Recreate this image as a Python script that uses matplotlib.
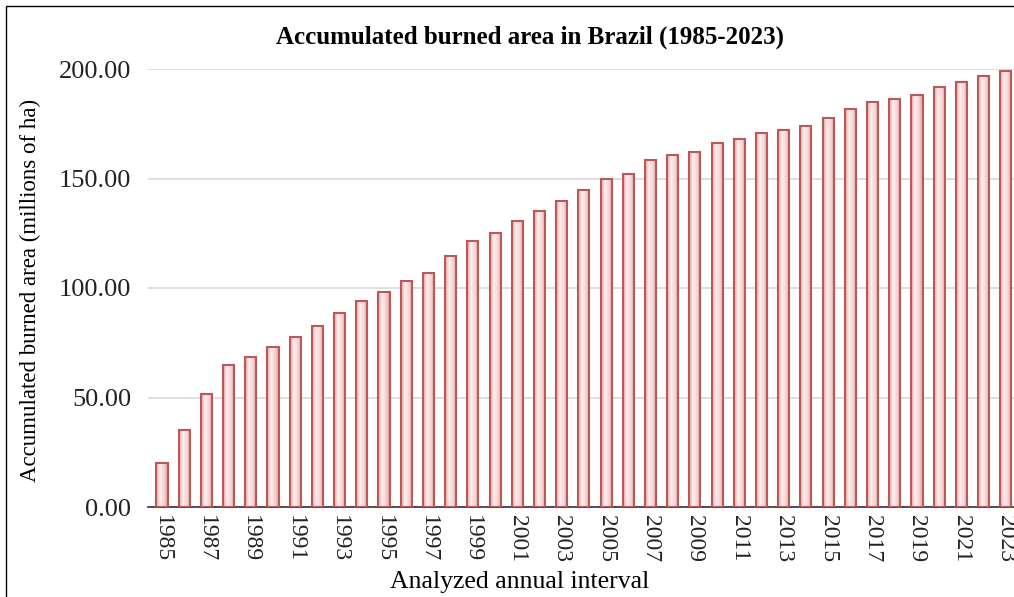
import numpy as np
import matplotlib.pyplot as plt
from matplotlib.patches import Rectangle
from matplotlib.colors import LinearSegmentedColormap

years = list(range(1985, 2024))
burned = [20.0, 35.0, 51.6, 65.0, 68.5, 73.0, 77.6, 82.6, 88.6, 94.0,
          98.0, 103.0, 107.0, 114.6, 121.5, 125.0, 130.6, 135.0, 139.7, 144.7,
          149.8, 152.0, 158.4, 160.7, 162.0, 166.2, 168.0, 170.8, 172.0, 174.0,
          177.6, 181.7, 185.0, 186.3, 188.0, 191.8, 194.0, 196.8, 199.0]
yticks = [0, 50, 100, 150, 200]

plt.rcParams['font.family'] = ['Liberation Serif', 'DejaVu Serif']

W, H = 1014, 597
fig = plt.figure(figsize=(W / 100, H / 100), dpi=100)
ax = fig.add_axes([148 / W, 1 - 507 / H, (W - 148) / W, (507 - 69) / H])

x = np.arange(len(years))
bars = ax.bar(x, burned, width=0.5, color='none', edgecolor='#b9595a',
              linewidth=1.5, zorder=3)

# cylinder-like shading: dark edges, light centre
cmap = LinearSegmentedColormap.from_list('cyl', ['#e8a0a0', '#fdf0f0', '#f7d4d4', '#e69a9a'])
grad = np.linspace(0, 1, 64).reshape(1, -1)
for b in bars:
    bx, bw, bh = b.get_x(), b.get_width(), b.get_height()
    im = ax.imshow(grad, cmap=cmap, aspect='auto', extent=(bx, bx + bw, 0, bh),
                   zorder=2, interpolation='bilinear')
    im.set_clip_path(b)

ax.set_xlim(-0.63, 38.37)
ax.set_ylim(0, 200)
ax.set_yticks(yticks)
ax.set_yticklabels([f'{v:.2f}' for v in yticks], fontsize=19, color='#222222')
ax.set_xticks(x[::2])
ax.set_xticklabels([str(y) for y in years[::2]], rotation=-90, fontsize=17,
                   color='#222222')
ax.tick_params(axis='both', length=0)
ax.tick_params(axis='y', pad=12)
ax.tick_params(axis='x', pad=6)
ax.grid(axis='y', color='#d9d9d9', linewidth=1.2, zorder=0)
ax.set_axisbelow(True)
for s in ['top', 'right', 'left']:
    ax.spines[s].set_visible(False)
ax.spines['bottom'].set_color('#333333')
ax.spines['bottom'].set_linewidth(1.2)

fig.text(530 / W, 1 - 37 / H, 'Accumulated burned area in Brazil (1985-2023)',
         ha='center', va='center', fontsize=18, fontweight='bold')
fig.text(30 / W, 1 - 290 / H, 'Accumulated burned area (millions of ha)',
         ha='center', va='center', rotation=90, fontsize=16.5)
fig.text(520 / W, 1 - 582 / H, 'Analyzed annual interval',
         ha='center', va='center', fontsize=18.5)

fig.patches.append(Rectangle((6 / W, -0.1), 1.2, 1 - 6 / H + 0.1,
                             transform=fig.transFigure, fill=False,
                             edgecolor='black', linewidth=1.0))

fig.savefig('out.png', dpi=100)
